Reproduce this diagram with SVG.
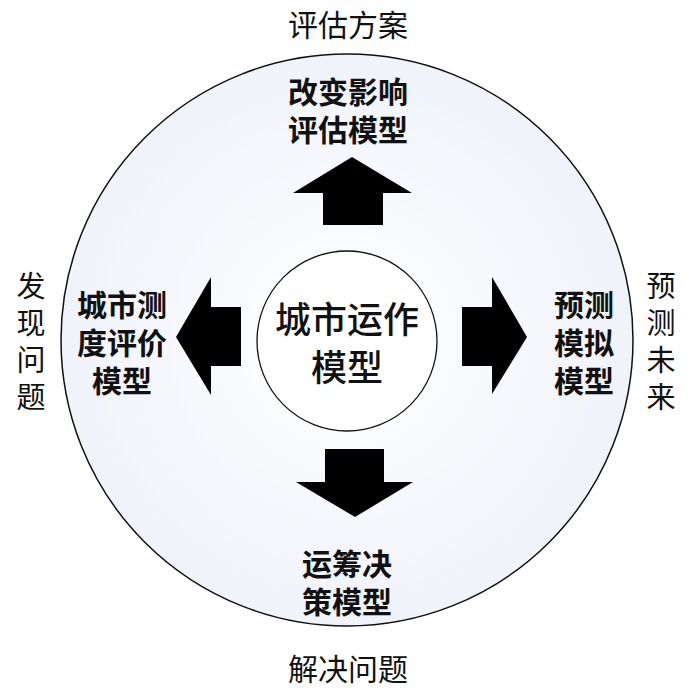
<svg xmlns="http://www.w3.org/2000/svg" width="693" height="690" viewBox="0 0 693 690">
<style>
.lbl{font-family:"Noto Sans CJK SC","Noto Sans",sans-serif;font-size:30px;fill:#111;text-anchor:middle}
.vert{font-size:29px}
.bold{font-weight:700}
.center{font-family:"Noto Sans CJK SC","Noto Sans",sans-serif;font-size:36px;font-weight:500;fill:#111;text-anchor:middle}
.arrow{fill:#000}
</style>
<defs>
<radialGradient id="bg" cx="50%" cy="50%" r="50%">
<stop offset="0" stop-color="#ffffff"/>
<stop offset="1" stop-color="#f0f3fa"/>
</radialGradient>
</defs>
<rect width="693" height="690" fill="#ffffff"/>
<g id="outer">
<circle cx="347" cy="340" r="286" fill="url(#bg)" stroke="#111" stroke-width="1.5"/>
</g>
<g id="center-node">
<circle cx="347" cy="341" r="90" fill="#ffffff" stroke="#111" stroke-width="1.3"/>
<text class="center" x="347" y="333">城市运作<tspan x="347" dy="48">模型</tspan></text>
</g>
<g id="connectors">
<polygon class="arrow" points="352,157 412,193 383,193 383,225 323,225 323,193 293,193"/>
<polygon class="arrow" points="176,337 211,277 211,307 241,307 241,366 211,366 211,395"/>
<polygon class="arrow" points="527,337 492,277 492,307 462,307 462,366 492,366 492,394"/>
<polygon class="arrow" points="355,517 413,482 384,482 384,449 325,449 325,482 296,482"/>
</g>
<g id="top-node">
<text class="lbl bold" x="348" y="103">改变影响<tspan x="348" dy="38">评估模型</tspan></text>
</g>
<g id="left-node">
<text class="lbl bold" x="122" y="316">城市测<tspan x="122" dy="38">度评价</tspan><tspan x="122" dy="38">模型</tspan></text>
</g>
<g id="right-node">
<text class="lbl bold" x="584" y="316">预测<tspan x="584" dy="38">模拟</tspan><tspan x="584" dy="38">模型</tspan></text>
</g>
<g id="bottom-node">
<text class="lbl bold" x="347" y="575">运筹决<tspan x="347" dy="38">策模型</tspan></text>
</g>
<g id="top-label">
<text class="lbl" x="348" y="36">评估方案</text>
</g>
<g id="bottom-label">
<text class="lbl" x="348" y="680">解决问题</text>
</g>
<g id="left-label">
<text class="lbl vert" x="31" y="297">发<tspan x="31" dy="37">现</tspan><tspan x="31" dy="37">问</tspan><tspan x="31" dy="37">题</tspan></text>
</g>
<g id="right-label">
<text class="lbl vert" x="661" y="297">预<tspan x="661" dy="37">测</tspan><tspan x="661" dy="37">未</tspan><tspan x="661" dy="37">来</tspan></text>
</g>
</svg>
